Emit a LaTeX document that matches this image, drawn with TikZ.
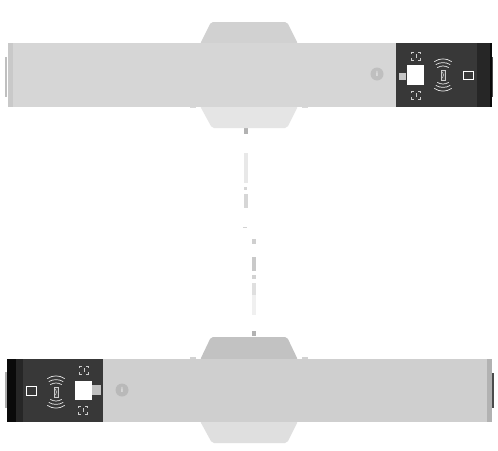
\documentclass[tikz,border=0pt]{standalone}
\usepackage{fontspec}
\setmainfont{Liberation Sans}
\tikzset{
  x=1pt,y=-1pt,
  plain/.style={fill=#1,draw=none},
  iconline/.style={draw=white!80!black,line width=0.45pt},
  waveline/.style={draw=white!92!black,line width=0.7pt,line cap=round},
  pics/scanmark/.style={code={
    \draw[iconline] (-4.5,-2) -- (-4.5,-4) -- (-2,-4) (2,-4) -- (4.5,-4) -- (4.5,-2)
      (-4.5,2) -- (-4.5,4) -- (-2,4) (2,4) -- (4.5,4) -- (4.5,2) (0,-2) -- (0,2);
  }},
  pics/nfcwaves/.style={code={
    \draw[iconline,fill=gray!60!black] (-2,-5) rectangle (2,5);
    \draw[iconline] (-0.7,-3) -- (0.7,0) -- (-0.7,3);
    \foreach \s in {-1,1}{
      \draw[waveline] (-5.5,\s*7.5) .. controls (-2,\s*9.5) and (2,\s*9.5) .. (5.5,\s*7.5);
      \draw[waveline] (-7,\s*10.5) .. controls (-3,\s*13) and (3,\s*13) .. (7,\s*10.5);
      \draw[waveline] (-8.5,\s*13.5) .. controls (-3,\s*17) and (3,\s*17) .. (8.5,\s*13.5);
    }
  }},
  infomark/.style={circle,fill=#1,minimum size=13pt,inner sep=0pt,text=white!90!gray,font=\bfseries\fontsize{7}{7}\selectfont}
}
\begin{document}
\begin{tikzpicture}
\useasboundingbox[fill=white] (0,0) rectangle (498,450);
% middle strip
\fill[plain=gray!60] (243.5,128) rectangle (247.5,134);
\fill[plain=gray!18] (243.5,153) rectangle (247.5,183);
\fill[plain=gray!32] (243.5,187) rectangle (247,190);
\fill[plain=gray!32] (243.5,194) rectangle (247.5,208);
\fill[plain=gray!35] (243,226.6) rectangle (247,227.4);
\fill[plain=gray!38] (252,239) rectangle (256,244);
\fill[plain=gray!42] (252,257) rectangle (256,271);
\fill[plain=gray!35] (252,275) rectangle (256,279);
\fill[plain=gray!25] (252,283) rectangle (256,295);
\fill[plain=gray!12] (252,295) rectangle (256,315);
\fill[plain=gray!60] (251.5,331) rectangle (255.5,336);
% top unit
\fill[plain=gray!36,rounded corners=2pt] (200,44) -- (211,22) -- (287,22) -- (298,44) -- cycle;
\fill[plain=gray!20,rounded corners=2pt] (200,106) -- (212,128) -- (287,128) -- (298,106) -- cycle;
\fill[plain=gray!30] (190,105) rectangle (196,108);
\fill[plain=gray!30] (302,105) rectangle (308,108);
\fill[plain=gray!50] (5,57) rectangle (7,97);
\fill[plain=gray!32] (8,43) rectangle (396,107);
\fill[plain=gray!42] (8,43) rectangle (13,107);
\fill[plain=black!78] (396,43) rectangle (477,107);
\fill[plain=black!85] (477,43) rectangle (490,107);
\fill[plain=black!96] (490,43) rectangle (492,107);
\fill[plain=black!70] (492,57) rectangle (493,97);
\fill[plain=white] (407,65) rectangle (424,85);
\fill[plain=gray!45] (399,73) rectangle (406,80);
\pic at (416,56) {scanmark};
\pic at (416,95) {scanmark};
\pic at (443,75) {nfcwaves};
\draw[draw=white,line width=0.8pt] (463.5,71) rectangle (473,79);
\node[infomark=gray!50] (infotop) at (377,74) {i};
% bottom unit
\fill[plain=gray!48,rounded corners=2pt] (200,360) -- (211,337) -- (287,337) -- (298,360) -- cycle;
\fill[plain=gray!25,rounded corners=2pt] (200,421) -- (212,443) -- (287,443) -- (298,421) -- cycle;
\fill[plain=gray!35] (190,357) rectangle (196,360);
\fill[plain=gray!35] (302,357) rectangle (308,360);
\fill[plain=gray!65] (5,372) rectangle (7,408);
\fill[plain=black!70] (492,373) rectangle (494,408);
\fill[plain=gray!38] (103,359) rectangle (492,422);
\fill[plain=gray!60] (487,359) rectangle (492,422);
\fill[plain=black!78] (7,359) rectangle (103,422);
\fill[plain=black!85] (16,359) rectangle (23,422);
\fill[plain=black!96] (7,359) rectangle (16,422);
\fill[plain=white] (75,381) rectangle (92,400);
\fill[plain=gray!50] (92,385) rectangle (101,395);
\pic at (84,370) {scanmark};
\pic at (83,410) {scanmark};
\pic at (56,392) {nfcwaves};
\draw[draw=white,line width=0.8pt] (26,386.5) rectangle (36,395);
\node[infomark=gray!55] (infobottom) at (122,390) {i};
\end{tikzpicture}
\end{document}
